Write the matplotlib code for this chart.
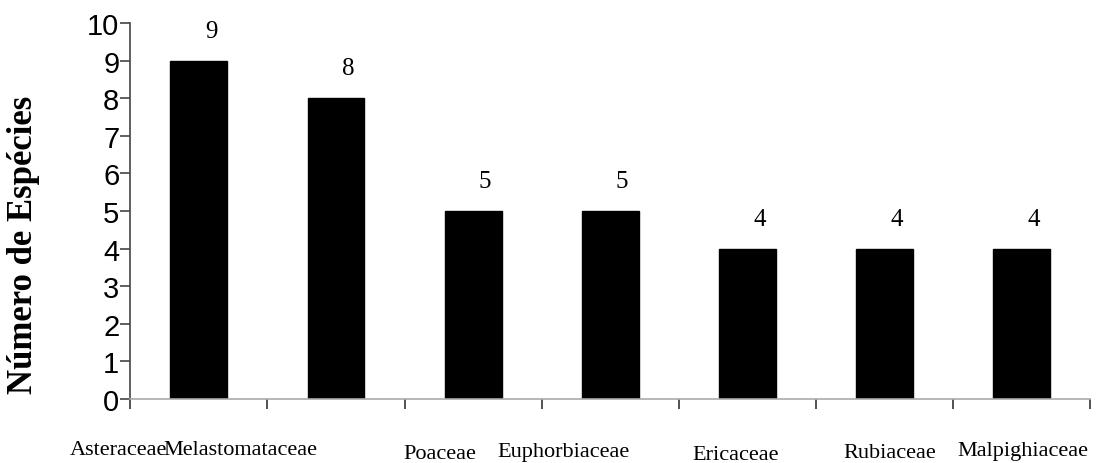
import matplotlib
matplotlib.use('Agg')
import matplotlib.pyplot as plt
import numpy as np

# Número de espécies por família
familias = ['Asteraceae', 'Melastomataceae', 'Poaceae', 'Euphorbiaceae',
            'Ericaceae', 'Rubiaceae', 'Malpighiaceae']
n_especies = [9, 8, 5, 5, 4, 4, 4]
y_ticks = list(range(0, 11))

# label nudges (pixels) - the original has them placed by hand
label_dx = [-80, -96, -33, -47, -12, 5, 1]
label_dy = [55, 55, 59, 57, 60, 58, 56]

dpi = 100
fig = plt.figure(figsize=(10.98, 4.64), dpi=dpi)
ax = fig.add_axes([130.4 / 1098, 1 - 400 / 464, (1090 - 130.4) / 1098, (400 - 24) / 464])

x = np.arange(len(familias))
bars = ax.bar(x, n_especies, width=0.415, color='black', edgecolor='black', linewidth=1)

ax.set_xlim(-0.5, len(familias) - 0.5)
ax.set_ylim(0, 10)

# y axis
ax.set_yticks(y_ticks)
ax.set_yticklabels([str(t) for t in y_ticks], fontfamily='Liberation Sans', fontsize=21)
ax.tick_params(axis='y', direction='out', length=7, width=1.2, pad=1, color='#444444')

# x axis: ticks on category boundaries, no tick labels
ax.set_xticks(np.arange(-0.5, len(familias), 1.0))
ax.set_xticklabels([])
ax.tick_params(axis='x', direction='out', length=7, width=1.2, color='#333333')

for s in ['top', 'right']:
    ax.spines[s].set_visible(False)
ax.spines['left'].set_color('#444444')
ax.spines['left'].set_linewidth(1.2)
ax.spines['bottom'].set_color('#aaaaaa')
ax.spines['bottom'].set_linewidth(1.2)

px = 72.0 / dpi
for i, (fam, v) in enumerate(zip(familias, n_especies)):
    ax.annotate(str(v), xy=(i, v), xytext=(12 * px, 24 * px), textcoords='offset points',
                ha='center', va='baseline', fontfamily='Liberation Serif', fontsize=18)
    ax.annotate(fam, xy=(i, 0), xytext=(label_dx[i] * px, -label_dy[i] * px),
                textcoords='offset points', ha='center', va='baseline',
                fontfamily='Liberation Serif', fontsize=16, annotation_clip=False)

fig.text(24 / 1098, 1 - 245 / 464, 'Número de Espécies', rotation=90, ha='center', va='center',
         fontfamily='Liberation Serif', fontweight='bold', fontsize=25)

plt.savefig('out.png', dpi=dpi)
